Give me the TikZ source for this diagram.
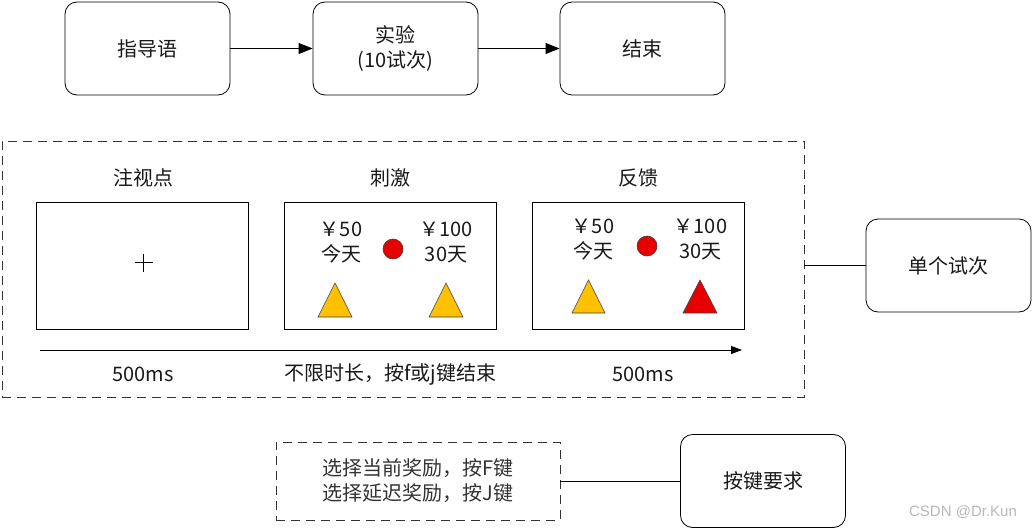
\documentclass[tikz,border=0pt]{standalone}
\usepackage{fontspec}
\setmainfont{Noto Sans CJK SC}
\newfontfamily\markfont{Liberation Sans}
\usepackage{xcolor}
\usetikzlibrary{arrows.meta, positioning}
\definecolor{gold}{HTML}{FFC000}
\definecolor{alarm}{HTML}{E60000}

\begin{document}
\begin{tikzpicture}[
    x=1pt, y=-1pt, >={Triangle[length=14pt, width=11pt]},
    every node/.style={font=\fontsize{20}{25}\selectfont, align=center, text=black!90},
    stage/.style={draw, rounded corners=12pt, line width=0.8pt,
                  minimum width=165pt, minimum height=93pt},
    screen/.style={draw, line width=0.8pt, minimum width=212pt, minimum height=127pt},
    dashbox/.style={draw, black!80, dash pattern=on 9pt off 6pt, line width=0.8pt},
    coin/.style={circle, fill=alarm, draw=black!75, line width=0.6pt,
                 inner sep=0pt, minimum size=20pt},
]
    \useasboundingbox (0,0) rectangle (1033,530);

    % ── Procedure ─────────────────────────────────
    \node[stage] (instr)  at (147.5,48.5) {指导语};
    \node[stage] (expt)   at (395.5,48.5) {实验\\(10试次)};
    \node[stage] (finish) at (642.5,48.5) {结束};
    \draw[->, line width=0.8pt] (instr) -- (expt);
    \draw[->, line width=0.8pt] (expt) -- (finish);

    % ── Single trial ──────────────────────────────
    \node[dashbox, minimum width=802pt, minimum height=256pt] (trial) at (403,269) {};
    \node[stage] (single) at (948.5,265.5) {单个试次};
    \draw[line width=0.8pt] (single.west -| trial.east) -- (single.west);

    % ── Screens ───────────────────────────────────
    \node[screen] (fixscr)  at (142.5,265.5) {};
    \node[screen] (stimscr) at (390.5,265.5) {};
    \node[screen] (fbscr)   at (638,265.5) {};
    \node (fixtitle)  at (143,178) {注视点};
    \node (stimtitle) at (390,178) {刺激};
    \node (fbtitle)   at (638,178) {反馈};

    % fixation cross
    \draw[line width=0.7pt] (134.5,262.5) -- (152.5,262.5);
    \draw[line width=0.7pt] (143.5,253.5) -- (143.5,271.5);

    % stimulus: options and coin
    \node (stimL) at (341,243) {￥50\\今天};
    \node (stimR) at (446,243) {￥100\\30天};
    \node[coin] (stimcoin) at (393,249) {};
    \filldraw[fill=gold, draw=black!75, line width=0.6pt] (318,317) -- (335,283) -- (352,317) -- cycle;
    \filldraw[fill=gold, draw=black!75, line width=0.6pt] (429,317) -- (446,283) -- (463,317) -- cycle;

    % feedback: chosen option turns red
    \node (fbL) at (593,239.5) {￥50\\今天};
    \node (fbR) at (700.5,239.5) {￥100\\30天};
    \node[coin] (fbcoin) at (647,246) {};
    \filldraw[fill=gold, draw=black!75, line width=0.6pt] (572,313) -- (588.5,280) -- (605,313) -- cycle;
    \filldraw[fill=alarm, draw=black!75, line width=0.6pt] (683,313) -- (700,280) -- (717,313) -- cycle;

    % ── Time line ─────────────────────────────────
    \coordinate (tstart) at (40,350);
    \coordinate (tend)   at (742,350);
    \draw[->, line width=0.8pt, >={Triangle[length=11pt, width=8pt]}] (tstart) -- (tend);
    \node (fixtime)  at (143,374) {500ms};
    \node (stimtime) at (390,374) {不限时长，按f或j键结束};
    \node (fbtime)   at (643,374) {500ms};

    % ── Key mapping ───────────────────────────────
    \node[dashbox, minimum width=284pt, minimum height=78pt] (keybox) at (418,481)
        {选择当前奖励，按F键\\选择延迟奖励，按J键};
    \node[stage] (keyreq) at (763,481) {按键要求};
    \draw[line width=0.8pt] (keybox) -- (keyreq);

    % ── Watermark ─────────────────────────────────
    \node[font=\markfont\fontsize{15}{18}\selectfont, text=black!28] (mark) at (963,512) {CSDN @Dr.Kun};
\end{tikzpicture}
\end{document}
